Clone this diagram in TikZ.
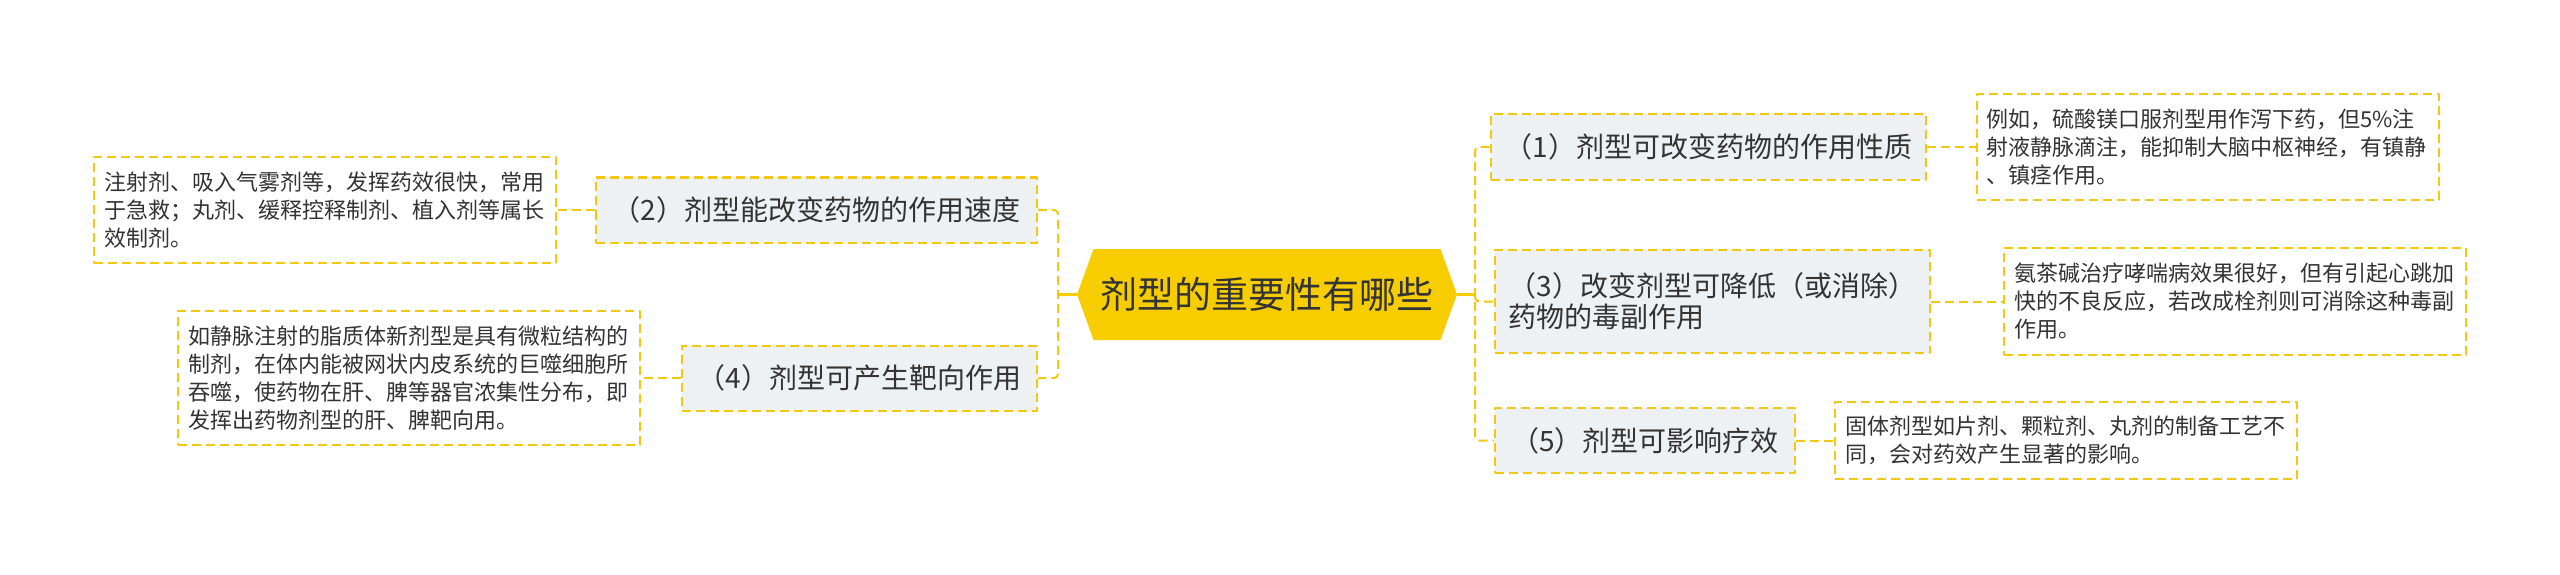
\documentclass[tikz,border=0pt]{standalone}
\usepackage{fontspec}
\setmainfont{Noto Sans CJK SC}
\usetikzlibrary{shapes.symbols}
\definecolor{vien}{HTML}{F2C811}
\definecolor{vang}{HTML}{F7CD00}
\definecolor{xam}{HTML}{EEF1F4}
\definecolor{chu}{HTML}{333333}
\begin{document}
\begin{tikzpicture}[x=1pt, y=-1pt, line join=round, line cap=butt,
		goc/.style={signal, signal to=west and east, signal pointer angle=140, fill=vang, minimum width=380, minimum height=91, inner sep=0pt, text=chu, font=\fontsize{37}{44}\selectfont},
		nhanh/.style={draw=vien, line width=2pt, dash pattern=on 9pt off 5pt, fill=xam, inner xsep=14pt, minimum height=65, text=chu, align=left, font=\fontsize{28}{31}\selectfont},
		la/.style={draw=vien, line width=2pt, dash pattern=on 9pt off 5pt, fill=white, text width=442pt, inner xsep=10pt, text=chu, align=left, font=\fontsize{22}{28}\selectfont},
		noi/.style={draw=vien, line width=2pt, dash pattern=on 9pt off 5pt, rounded corners=4pt}]
	\useasboundingbox (0,0) rectangle (2560,575);
	% chu de
	\node[goc] (goc) at (1267,294.5) {剂型的重要性有哪些};
	% nhanh
	\node[nhanh, minimum width=427] (n1) at (1708.5,147) {（1）剂型可改变药物的作用性质};
	\node[nhanh, minimum width=441] (n2) at (816.5,210) {（2）剂型能改变药物的作用速度};
	\node[nhanh, minimum width=435, minimum height=103] (n3) at (1712.5,301.5) {（3）改变剂型可降低（或消除）\\药物的毒副作用};
	\node[nhanh, minimum width=355] (n4) at (859.5,378) {（4）剂型可产生靶向作用};
	\node[nhanh, minimum width=300] (n5) at (1645,440.5) {（5）剂型可影响疗效};
	% la
	\node[la, minimum height=105] (d1) at (2207.5,147) {例如，硫酸镁口服剂型用作泻下药，但5\%注\\射液静脉滴注，能抑制大脑中枢神经，有镇静\\、镇痉作用。};
	\node[la, minimum height=106] (d2) at (325,210) {注射剂、吸入气雾剂等，发挥药效很快，常用\\于急救；丸剂、缓释控释制剂、植入剂等属长\\效制剂。};
	\node[la, minimum height=107] (d3) at (2235,301.5) {氨茶碱治疗哮喘病效果很好，但有引起心跳加\\快的不良反应，若改成栓剂则可消除这种毒副\\作用。};
	\node[la, minimum height=134] (d4) at (409,378) {如静脉注射的脂质体新剂型是具有微粒结构的\\制剂，在体内能被网状内皮系统的巨噬细胞所\\吞噬，使药物在肝、脾等器官浓集性分布，即\\发挥出药物剂型的肝、脾靶向用。};
	\node[la, minimum height=77] (d5) at (2066,440.5) {固体剂型如片剂、颗粒剂、丸剂的制备工艺不\\同，会对药效产生显著的影响。};
	% duong noi
	\coordinate (tL) at (1058,294.5);
	\coordinate (tR) at (1475,294.5);
	\draw[vang, line width=2.5pt] (goc.west)--(tL);
	\draw[vang, line width=2.5pt] (goc.east)--(tR);
	\draw[noi] (n2.east) -| (tL) |- (n4.east);
	\draw[noi] (n1.west) -| (tR) |- (n5.west);
	\draw[noi] (tR) |- (n3.west);
	\foreach \a/\b in {n1/d1,n3/d3,n5/d5} \draw[noi] (\a.east)--(\b.west);
	\foreach \a/\b in {n2/d2,n4/d4} \draw[noi] (\a.west)--(\b.east);
\end{tikzpicture}
\end{document}
